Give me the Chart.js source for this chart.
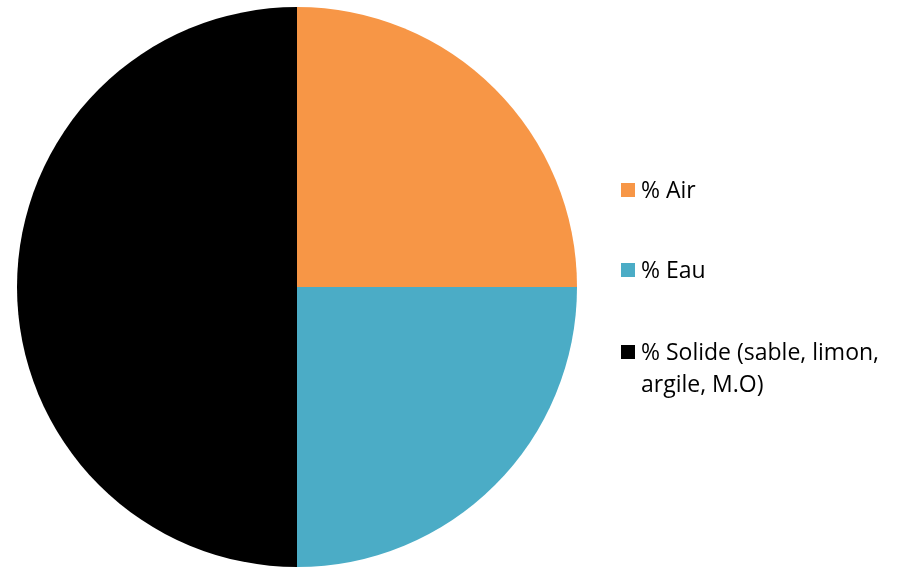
<!DOCTYPE html>
<html>
<head>
<meta charset="utf-8">
<script src="https://cdn.jsdelivr.net/npm/chart.js@4"></script>
<style>
  html, body { margin: 0; padding: 0; background: #fff; }
  #wrap { width: 900px; height: 568px; }
</style>
</head>
<body>
<div id="wrap"><canvas id="soilChart" width="900" height="568"></canvas></div>
<script>
const labels = ['% Air', '% Eau', ['% Solide (sable, limon,', 'argile, M.O)']];
const values = [25, 25, 50];
const colors = ['#F79646', '#4BACC6', '#000000'];

// legend on the right, one box per slice, labels may wrap on two lines
const sideLegend = {
  id: 'sideLegend',
  afterDraw(chart) {
    const ctx = chart.ctx;
    const ds = chart.data.datasets[0];
    const rowY = [191, 271, 353];
    const lineH = 32;
    ctx.save();
    ctx.font = '23px "Open Sans", sans-serif';
    ctx.textBaseline = 'middle';
    chart.data.labels.forEach((lab, i) => {
      const y = rowY[i];
      ctx.fillStyle = ds.backgroundColor[i];
      ctx.fillRect(621, y - 8, 14, 14);
      ctx.fillStyle = '#000';
      const lines = Array.isArray(lab) ? lab : [lab];
      lines.forEach((t, j) => ctx.fillText(t, 641, y + j * lineH));
    });
    ctx.restore();
  }
};

new Chart(document.getElementById('soilChart'), {
  type: 'pie',
  data: {
    labels: labels,
    datasets: [{
      data: values,
      backgroundColor: colors,
      borderWidth: 0
    }]
  },
  options: {
    responsive: false,
    animation: false,
    layout: { padding: { left: 17, top: 7, right: 323, bottom: 1 } },
    plugins: {
      legend: { display: false },
      tooltip: { enabled: false }
    }
  },
  plugins: [sideLegend]
});
</script>
</body>
</html>
